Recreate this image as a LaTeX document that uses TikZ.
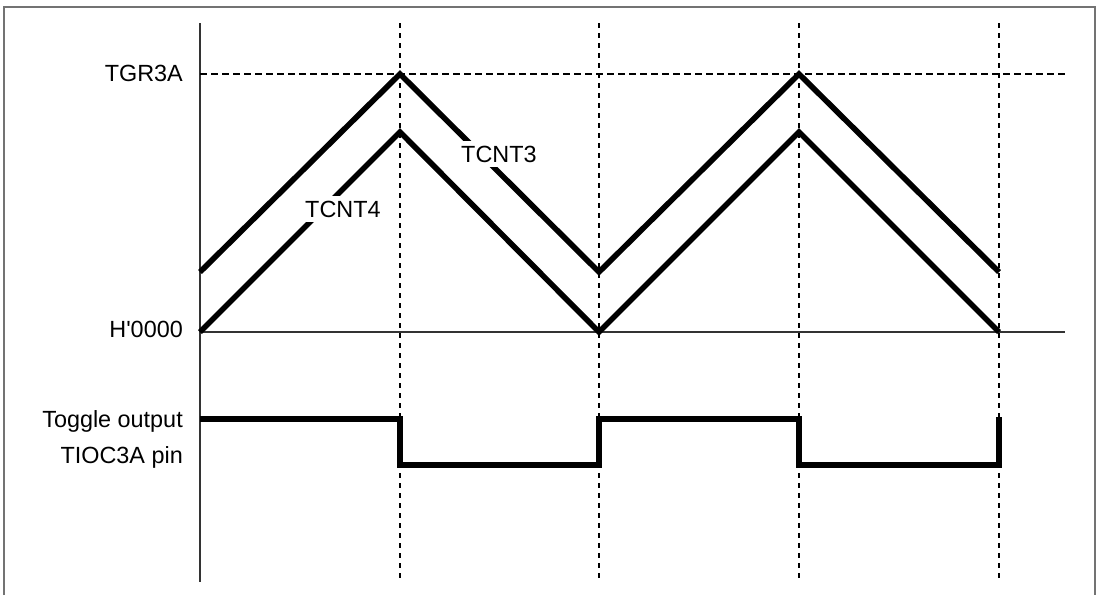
\documentclass[tikz,border=0pt]{standalone}
\usepackage{fontspec}
\setmainfont{Liberation Sans}

\begin{document}
\begin{tikzpicture}[x=1pt,y=-1pt,
    label text/.style={font=\fontsize{23.4}{28}\selectfont,inner sep=0pt},
    curve label/.style={label text,fill=white,inner xsep=2pt,inner ysep=5pt},
    axis line/.style={line width=1.2pt,black!80},
    guide line/.style={line width=1.2pt,dash pattern=on 5pt off 5pt},
    level line/.style={line width=1.2pt,dash pattern=on 7pt off 4pt},
    wave/.style={line width=5.6pt,line join=miter}]
  \useasboundingbox (0,0) rectangle (1100,595);

  % frame, open at the bottom
  \draw[black!55,line width=1.6pt] (4,595) -- (4,7) -- (1095,7) -- (1095,595);

  % time guides
  \foreach \t in {400,599,799,999}
    \draw[guide line] (\t,23) -- (\t,582);

  % axes and levels
  \draw[axis line] (200,23) -- (200,582);
  \draw[level line] (200,74) -- (1065,74);
  \draw[axis line] (200,332) -- (1065,332);

  % counters
  \draw[wave] (200,272) -- (400,74) -- (599,272) -- (799,74) -- (999,272);
  \draw[wave] (200,332) -- (400,132) -- (599,332) -- (799,132) -- (999,332);

  % toggle output
  \draw[wave] (200,419) -- (400,419) -- (400,465) -- (599,465) -- (599,419)
    -- (799,419) -- (799,465) -- (999,465) -- (999,417);

  % labels
  \node[label text,anchor=base east] (tgr) at (183,81) {TGR3A};
  \node[label text,anchor=base east] (zero) at (183,337) {H\textquotesingle 0000};
  \node[label text,anchor=base east] (tog) at (183,427) {Toggle output};
  \node[label text,anchor=base east] (pin) at (183,463) {TIOC3A pin};
  \node[curve label,anchor=base west] (cnt3) at (459,162) {TCNT3};
  \node[curve label,anchor=base west] (cnt4) at (303,217) {TCNT4};
\end{tikzpicture}
\end{document}
